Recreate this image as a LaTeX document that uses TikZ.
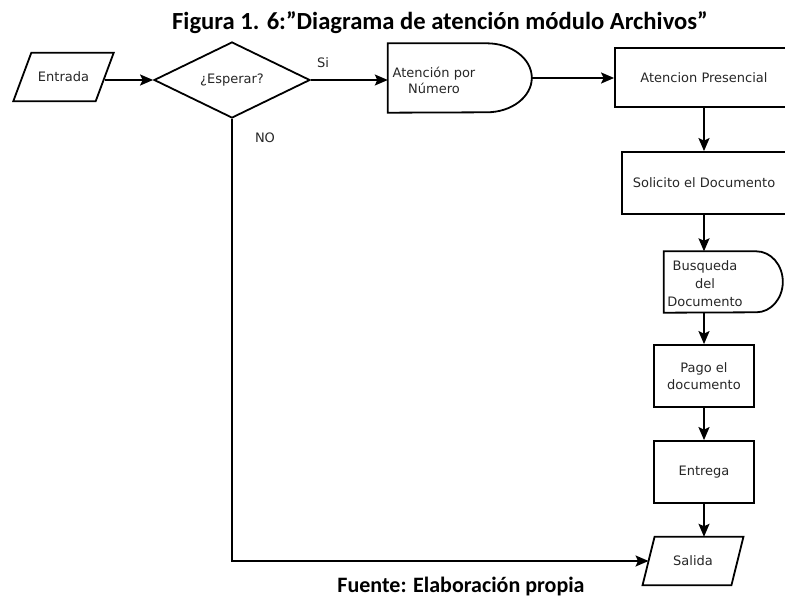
\documentclass[tikz,border=0pt]{standalone}
\usepackage{fontspec}
\setmainfont{DejaVu Sans}
\newfontfamily\capfont{Carlito}
\usetikzlibrary{shapes.geometric,arrows.meta,calc}

\begin{document}
\begin{tikzpicture}[x=1pt,y=-1pt,
  lbl/.style={font=\fontsize{13}{16}\selectfont, text=black!85},
  outline/.style={draw=black, line width=1.8pt},
  procbox/.style={outline, rectangle, inner sep=0pt, align=center, lbl},
  hold/.style={inner sep=0pt, lbl, align=center},
  flow/.style={line width=1.8pt, -{Stealth[length=13pt,width=11pt,inset=2.5pt]}},
  caption/.style={font=\capfont\bfseries\fontsize{#1}{#1}\selectfont, anchor=base}
]
\useasboundingbox (0,0) rectangle (785,596);
\clip (0,0) rectangle (785,596);

% captions
\node[caption=24.6] (title) at (440,30) {Figura 1. 6:”Diagrama de atención módulo Archivos”};
\node[caption=22] (source) at (461,592) {Fuente: Elaboración propia};

% input
\node[hold, minimum width=82pt, minimum height=48pt] (entrada) at (63.5,77) {Entrada};
\draw[outline] ([xshift=9pt]entrada.north west) -- ([xshift=9pt]entrada.north east)
  -- ([xshift=-9pt]entrada.south east) -- ([xshift=-9pt]entrada.south west) -- cycle;

% decision
\node[diamond, outline, lbl, minimum width=156pt, minimum height=76pt, inner sep=0pt, aspect=2] (esperar) at (232,80) {¿Esperar?};

% delay: turn number
\node[hold, minimum width=144pt, minimum height=69pt] (atnum) at (460,78) {};
\draw[outline] (atnum.north west) -- ++(99pt,0)
  arc[start angle=90, end angle=-90, x radius=45pt, y radius=34.5pt] -- (atnum.south west) -- cycle;
\node[lbl, align=center] (atnumtxt) at (434,80) {Atención por\\Número};

% process column
\node[procbox, minimum width=178pt, minimum height=59pt] (presencial) at (704,77.5) {Atencion Presencial};
\node[procbox, minimum width=164pt, minimum height=62pt] (solicito) at (704,183) {Solicito el Documento};

\node[hold, minimum width=119pt, minimum height=61pt] (busqueda) at (723.5,282) {};
\draw[outline] (busqueda.north west) -- ++(92.5pt,0)
  arc[start angle=90, end angle=-90, x radius=26.5pt, y radius=30.5pt] -- (busqueda.south west) -- cycle;
\node[lbl, align=center, font=\fontsize{13}{18}\selectfont] (busqtxt) at (705,284) {Busqueda\\del\\Documento};

\node[procbox, minimum width=100pt, minimum height=62pt, font=\fontsize{13}{17.5}\selectfont] (pago) at (704,376) {Pago el\\documento};
\node[procbox, minimum width=100pt, minimum height=62pt] (entrega) at (704,472) {Entrega};

% output
\node[hold, minimum width=88.5pt, minimum height=48pt] (salida) at (693,561) {Salida};
\draw[outline] ([xshift=6pt]salida.north west) -- ([xshift=6pt]salida.north east)
  -- ([xshift=-6pt]salida.south east) -- ([xshift=-6pt]salida.south west) -- cycle;

% branch labels
\node[lbl] (si) at (323,63) {Si};
\node[lbl] (no) at (265,138) {NO};

% connectors
\draw[flow] (entrada.east |- esperar.west) -- (esperar.west);
\draw[flow] (esperar.east) -- (esperar.east -| atnum.west);
\draw[flow] (atnum.east) -- (atnum.east -| presencial.west);
\draw[flow] (presencial.south) -- (solicito.north);
\draw[flow] (solicito.south) -- (solicito.south |- busqueda.north);
\draw[flow] (pago.north |- busqueda.south) -- (pago.north);
\draw[flow] (pago.south) -- (entrega.north);
\draw[flow] (entrega.south) -- (entrega.south |- salida.north);
\draw[flow] (esperar.south) |- (salida.west);
\end{tikzpicture}
\end{document}
